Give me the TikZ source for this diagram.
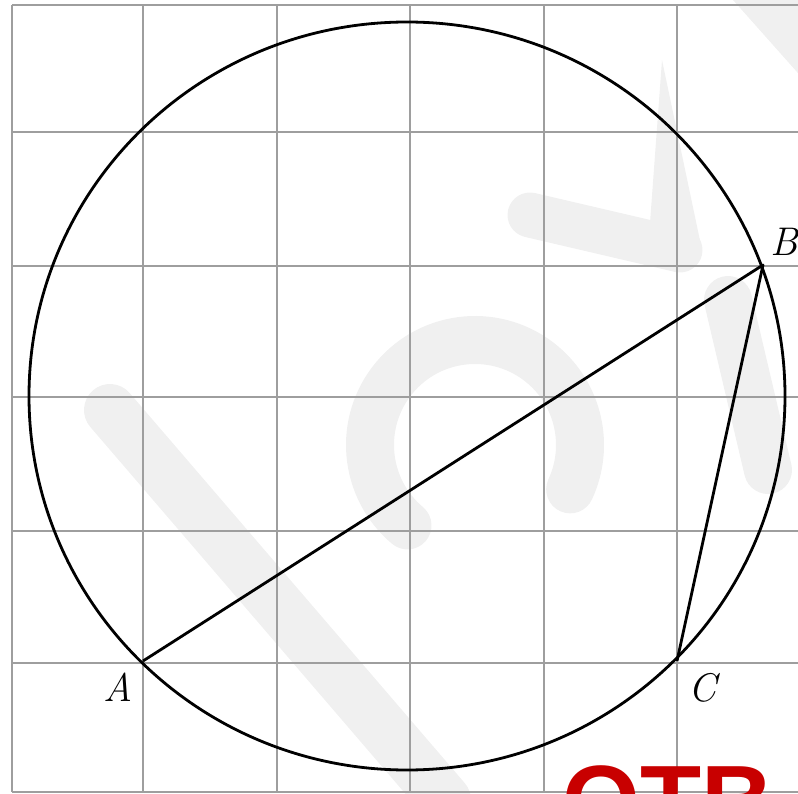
\documentclass[tikz,border=0pt]{standalone}
\usepackage{fontspec}
\newfontfamily\otbfont{Liberation Sans}
\definecolor{otbred}{RGB}{200,0,0}
\begin{document}
\begin{tikzpicture}[x=1pt,y=-1pt,
  gridline/.style={draw=black!38,line width=2.6pt},
  wm/.style={draw=black!6,line width=52pt,line cap=round},
  wmfill/.style={fill=black!6},
  figline/.style={draw=black,line width=2.8pt,line join=round},
  lbl/.style={inner sep=0pt,font=\itshape\fontsize{40}{48}\selectfont}]
\useasboundingbox (0,0) rectangle (798,794);
\clip (0,0) rectangle (798,794);
% faint watermark
\draw[wm] (110,410) -- (445,800);
\draw[wm,line width=48pt] (475,445) ++(130:105) arc[start angle=130,end angle=385,radius=105];
\draw[wm] (750,-20) -- (830,70);
\draw[wm,line width=45pt] (530,215) -- (680,250);
\draw[wm,line width=48pt] (728,300) -- (768,470);
\fill[wmfill] (662,60) -- (702,250) -- (648,250) -- cycle;
% grid
\foreach \gx in {12,143,277,410,544,677}
  \draw[gridline] (\gx,5) -- (\gx,792);
\foreach \gy in {5,132,266,397,531,663,792}
  \draw[gridline] (12,\gy) -- (798,\gy);
% circle and triangle
\coordinate (O) at (407,396);
\coordinate (A) at (143,661);
\coordinate (B) at (763,265);
\coordinate (C) at (677,661);
\draw[figline] (O) ellipse [x radius=378, y radius=374];
\draw[figline] (A) -- (B) -- (C);
% labels
\node[lbl] (lA) at (118,687) {A};
\node[lbl] (lB) at (784,242) {B};
\node[lbl] (lC) at (702,688) {C};
% red text
\node[anchor=base west,inner sep=0pt,text=otbred,font=\otbfont\bfseries\fontsize{100}{100}\selectfont] (otb) at (562,835) {OTB};
\end{tikzpicture}
\end{document}
